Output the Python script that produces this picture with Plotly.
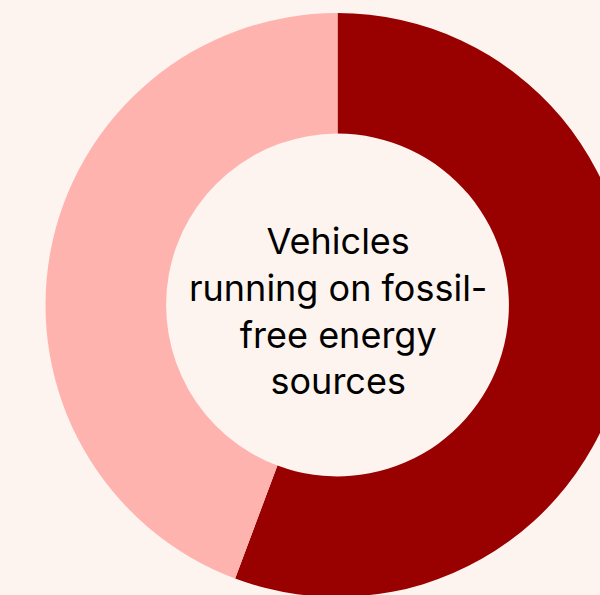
import plotly.graph_objects as go

labels = ["Fossil-free energy sources", "Other"]
values = [55.7, 44.3]
colors = ["#990000", "#ffb3ae"]
center_text = "Vehicles<br>running on fossil-<br>free energy<br>sources"

W, H = 680, 610
cx, cy, r = 337.5, 305, 292

fig = go.Figure(go.Pie(
    labels=labels,
    values=values,
    hole=0.587,
    sort=False,
    direction="clockwise",
    rotation=0,
    marker=dict(colors=colors, line=dict(width=0)),
    textinfo="none",
    hoverinfo="label+percent",
    showlegend=False,
    domain=dict(x=[0, 2 * cx / W], y=[(H - cy - r) / H, (H - cy + r) / H]),
))

fig.add_annotation(
    text=center_text,
    x=cx / W, y=(H - 311) / H, xref="paper", yref="paper",
    showarrow=False,
    font=dict(family="Inter", size=36, color="#000000"),
    align="center",
)

fig.update_layout(
    width=W, height=H,
    margin=dict(l=0, r=0, t=0, b=0),
    paper_bgcolor="#fdf4ef",
    plot_bgcolor="#fdf4ef",
)

fig.write_html("out.html", post_script="document.body.style.margin='0';document.body.style.overflow='hidden';document.documentElement.style.overflow='hidden';")
